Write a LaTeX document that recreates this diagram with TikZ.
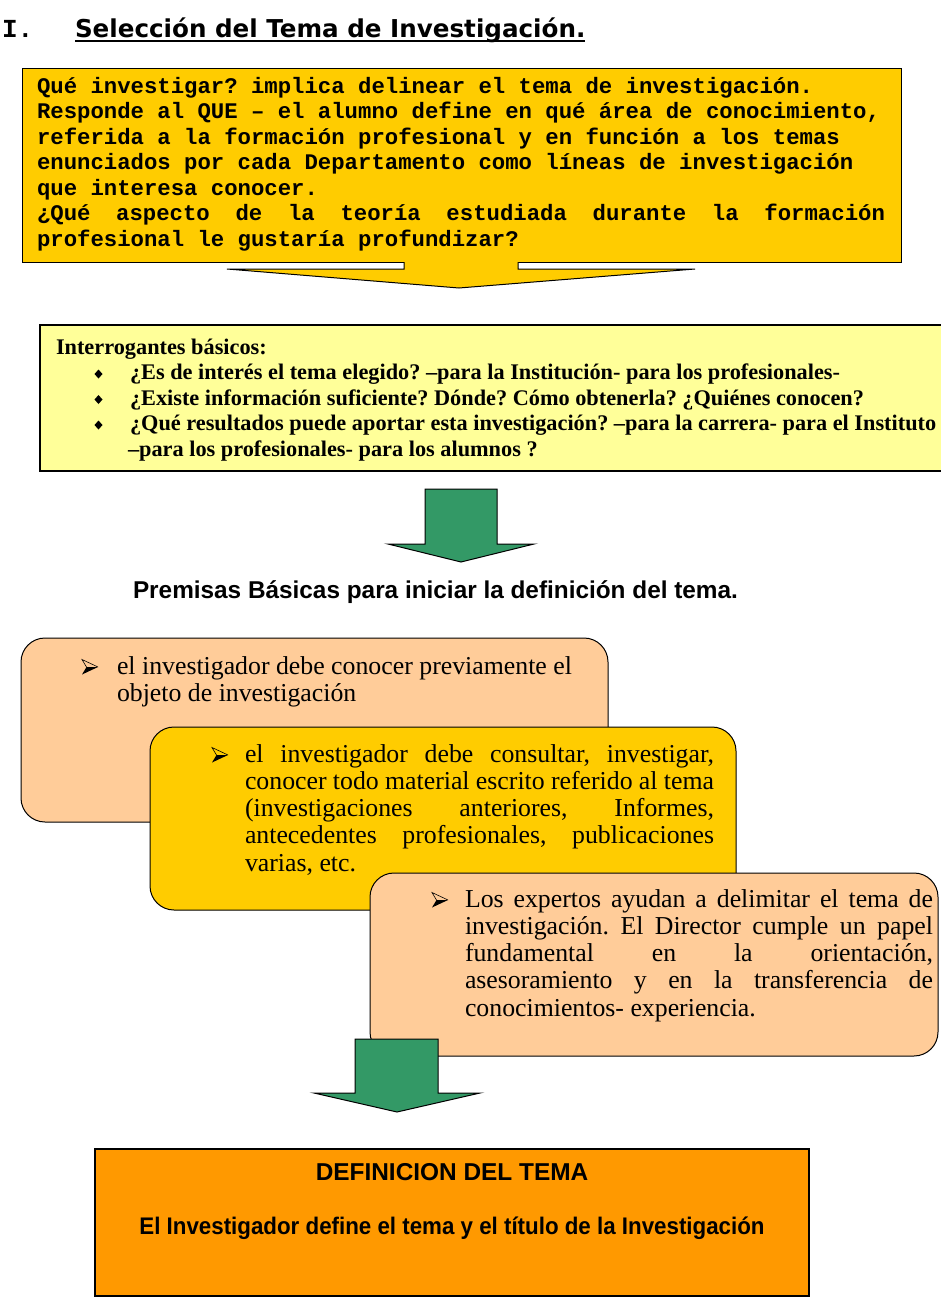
\documentclass[tikz,border=0pt]{standalone}
\usepackage{fontspec}
\setmainfont{Liberation Serif}
\newfontfamily\monob{Liberation Mono}
\newfontfamily\arial{Liberation Sans}
\newfontfamily\verd{DejaVu Sans}
\definecolor{gold}{HTML}{FFCC00}
\definecolor{paleyel}{HTML}{FFFF99}
\definecolor{peach}{HTML}{FFCC99}
\definecolor{grn}{HTML}{339966}
\definecolor{orng}{HTML}{FF9900}
\frenchspacing
\tikzset{
  txt/.style={inner sep=0pt, outer sep=0pt, anchor=base west,
    execute at begin node={\spaceskip=0pt\xspaceskip=0pt\relax}},
  panel/.style={draw=black, inner sep=0pt, outer sep=0pt, anchor=north west},
  rpanel/.style={panel, rounded corners=24pt, line width=1pt},
  blk/.style={draw=black, line width=1pt, fill=grn},
  diam/.pic={\fill[black] (0,-4.5) -- (4,0) -- (0,4.5) -- (-4,0) -- cycle;},
  arrb/.pic={\fill[black] (-8,7.5) -- (8,0) -- (-3.5,0) -- cycle;
             \draw[black, line width=0.6pt, line join=miter] (-3.5,0) -- (-8,-7.5) -- (8,0);}
}
\begin{document}
\begin{tikzpicture}[x=1pt, y=-1pt]
\useasboundingbox (0,0) rectangle (940,1309);
\fill[white] (0,0) rectangle (940,1309);

% title
\node[txt, font=\monob\bfseries\fontsize{26}{30}\selectfont] (num) at (2,37) {I.};
\node[txt, font=\verd\bfseries\fontsize{24.6}{28}\selectfont] (title) at (75,37) {Selección del Tema de Investigación.};
\draw[line width=1.8pt] ([yshift=-4pt]title.base west) -- ([yshift=-4pt]title.base east);

% top box
\node[panel, fill=gold, line width=1pt, minimum width=879pt, minimum height=194pt] (qbox) at (22,68) {};
\fill[gold] (404,260.5) -- (404,269) -- (227,269) -- (459,288) -- (695,269) -- (518,269) -- (518,260.5) -- cycle;
\draw[line width=1pt, line join=miter] (404,262) -- (404,269) -- (227,269) -- (459,288) -- (695,269) -- (518,269) -- (518,262);
\node[txt, text width=870pt, font=\monob\bfseries\fontsize{22.3}{25.5}\selectfont] (qtext) at (37,93)
{Qué investigar? implica delinear el tema de investigación.\\
Responde al QUE – el alumno define en qué área de conocimiento,\\
referida a la formación profesional y en función a los temas\\
enunciados por cada Departamento como líneas de investigación\\
que interesa conocer.\\
\makebox[848pt][l]{¿Qué\hfill aspecto\hfill de\hfill la\hfill teoría\hfill estudiada\hfill durante\hfill la\hfill formación}\\
profesional le gustaría profundizar?};

% interrogantes box
\node[panel, fill=paleyel, line width=2pt, minimum width=930pt, minimum height=146pt] (ibox) at (40,325) {};
\node[txt, text width=1000pt, font=\bfseries\fontsize{22.3}{25.5}\selectfont] (itext) at (56,354)
{Interrogantes básicos:\\
\hspace*{74pt}¿Es de interés el tema elegido? –para la Institución- para los profesionales-\\
\hspace*{74pt}¿Existe información suficiente? Dónde? Cómo obtenerla? ¿Quiénes conocen?\\
\hspace*{74pt}¿Qué resultados puede aportar esta investigación? –para la carrera- para el Instituto\\
\hspace*{72pt}–para los profesionales- para los alumnos ?};
\pic at (98.5,374) {diam};
\pic at (98.5,399.5) {diam};
\pic at (98.5,425) {diam};

% green arrow 1
\draw[blk, line join=miter] (425,489) -- (497,489) -- (497,544) -- (534,544) -- (461,562) -- (388,544) -- (425,544) -- cycle;

\node[txt, font=\arial\bfseries\fontsize{24.35}{28}\selectfont] (prem) at (133,598) {Premisas Básicas para iniciar la definición del tema.};

% rounded boxes
\node[rpanel, fill=peach, minimum width=587pt, minimum height=184pt] (b1) at (21,638) {};
\pic at (90,667) {arrb};
\node[txt, text width=480pt, font=\fontsize{25.8}{27.3}\selectfont] (t1) at (117,674)
{el investigador debe conocer previamente el\\objeto de investigación};

\node[rpanel, fill=gold, minimum width=586pt, minimum height=183pt] (b2) at (150,727) {};
\pic at (220,755) {arrb};
\node[txt, text width=469pt, font=\fontsize{25.8}{27.3}\selectfont] (t2) at (245,762)
{\makebox[469pt][s]{el investigador debe consultar, investigar,}\\
\makebox[469pt][s]{conocer todo material escrito referido al tema}\\
\makebox[469pt][s]{(investigaciones anteriores, Informes,}\\
\makebox[469pt][s]{antecedentes profesionales, publicaciones}\\
varias, etc.};

\node[rpanel, fill=peach, minimum width=568pt, minimum height=183pt] (b3) at (370,873) {};
\pic at (440,900) {arrb};
\node[txt, text width=468pt, font=\fontsize{25.8}{27.3}\selectfont] (t3) at (465,907)
{\makebox[468pt][s]{Los expertos ayudan a delimitar el tema de}\\
\makebox[468pt][s]{investigación. El Director cumple un papel}\\
\makebox[468pt][s]{fundamental en la orientación,}\\
\makebox[468pt][s]{asesoramiento y en la transferencia de}\\
conocimientos- experiencia.};

% green arrow 2
\draw[blk, line join=miter] (355,1039) -- (438,1039) -- (438,1093) -- (480,1093) -- (397,1112) -- (314,1093) -- (355,1093) -- cycle;

% bottom box
\node[panel, fill=orng, line width=2pt, minimum width=714pt, minimum height=147pt] (dbox) at (95,1149) {};
\node[inner sep=0pt, anchor=base, font=\arial\bfseries\fontsize{24.4}{28}\selectfont] (dt1) at (452,1180) {DEFINICION DEL TEMA};
\node[inner sep=0pt, anchor=base, font=\arial\bfseries\fontsize{24}{28}\selectfont] (dt2) at (452,1234) {\scalebox{0.93}[1]{El Investigador define el tema y el título de la Investigación}};
\end{tikzpicture}
\end{document}
